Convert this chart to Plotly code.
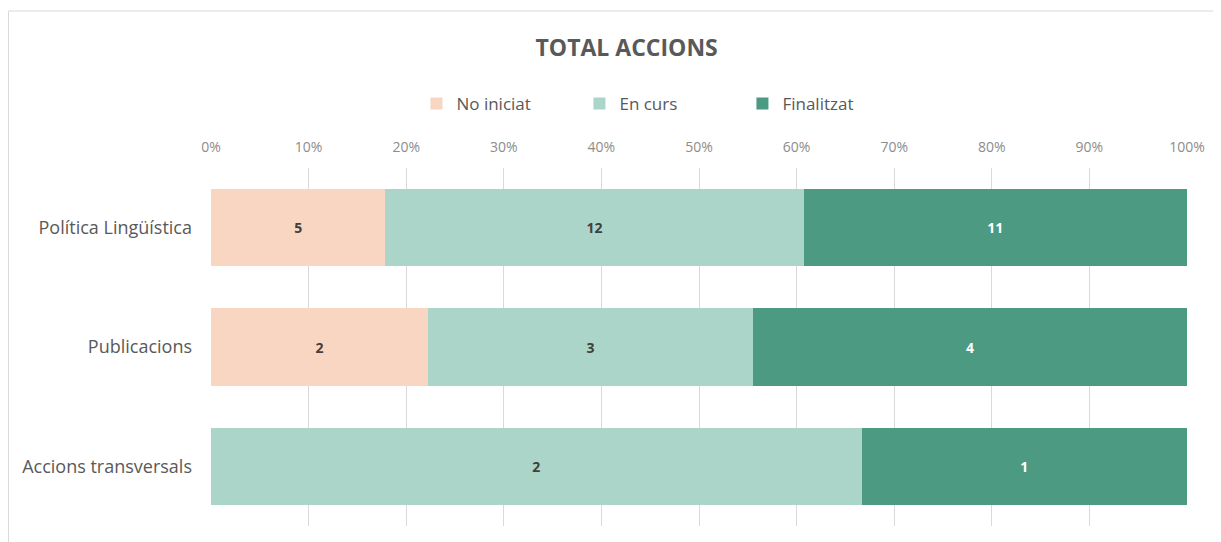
import plotly.graph_objects as go

categories = ["Política Lingüística", "Publicacions", "Accions transversals"]
no_iniciat = [5, 2, 0]
en_curs = [12, 3, 2]
finalitzat = [11, 4, 1]
tick_vals = [0, 10, 20, 30, 40, 50, 60, 70, 80, 90, 100]
tick_text = [f"{v}%" for v in tick_vals]


def labels(values):
    # Excel leaves empty segments unlabelled
    return [str(v) if v else "" for v in values]


fig = go.Figure()

series = [
    ("No iniciat", no_iniciat, "#F8D6C1", "#404040"),
    ("En curs", en_curs, "#ACD5C9", "#404040"),
    ("Finalitzat", finalitzat, "#4B9A81", "#FFFFFF"),
]

for name, values, color, text_color in series:
    fig.add_trace(go.Bar(
        y=categories,
        x=values,
        name=name,
        orientation="h",
        marker=dict(color=color, line=dict(width=0)),
        text=labels(values),
        textposition="inside",
        insidetextanchor="middle",
        textfont=dict(family="Open Sans", size=14, color=text_color, weight="bold"),
        hoverinfo="x+y+name",
    ))

# the page body adds an 8px margin, so the figure is sized to fill the rest of the window
fig.update_layout(
    barmode="stack",
    barnorm="percent",
    bargap=0.35,
    width=1213,
    height=534,
    margin=dict(l=203, r=34, t=160, b=16),
    paper_bgcolor="white",
    plot_bgcolor="white",
    font=dict(family="Open Sans", color="#595959"),
    title=dict(text="<b>TOTAL ACCIONS</b>", x=0.51, xanchor="center", y=0.925, yanchor="middle",
               font=dict(size=23, color="#595959", family="Open Sans")),
    legend=dict(orientation="h", x=0.461, xanchor="center", y=1.179, yanchor="middle",
                font=dict(size=17, color="#595959"), traceorder="normal",
                itemwidth=30, entrywidth=118),
    xaxis=dict(side="top", range=[0, 100], tickvals=tick_vals, ticktext=tick_text,
               showgrid=True, gridcolor="#D9D9D9", gridwidth=1, zeroline=False,
               tickfont=dict(size=14, color="#8C8C8C"), ticks="", showline=False,
               ticklabelstandoff=12),
    yaxis=dict(autorange="reversed", tickfont=dict(size=18, color="#595959"),
               ticks="", showline=False, ticklabelstandoff=18, automargin=False),
    shapes=[dict(type="rect", xref="paper", yref="paper", x0=-0.2075, x1=1.1, y0=-0.2, y1=1.4385,
                 line=dict(color="#D9D9D9", width=1), layer="below")],
)

fig.write_html("out.html")
